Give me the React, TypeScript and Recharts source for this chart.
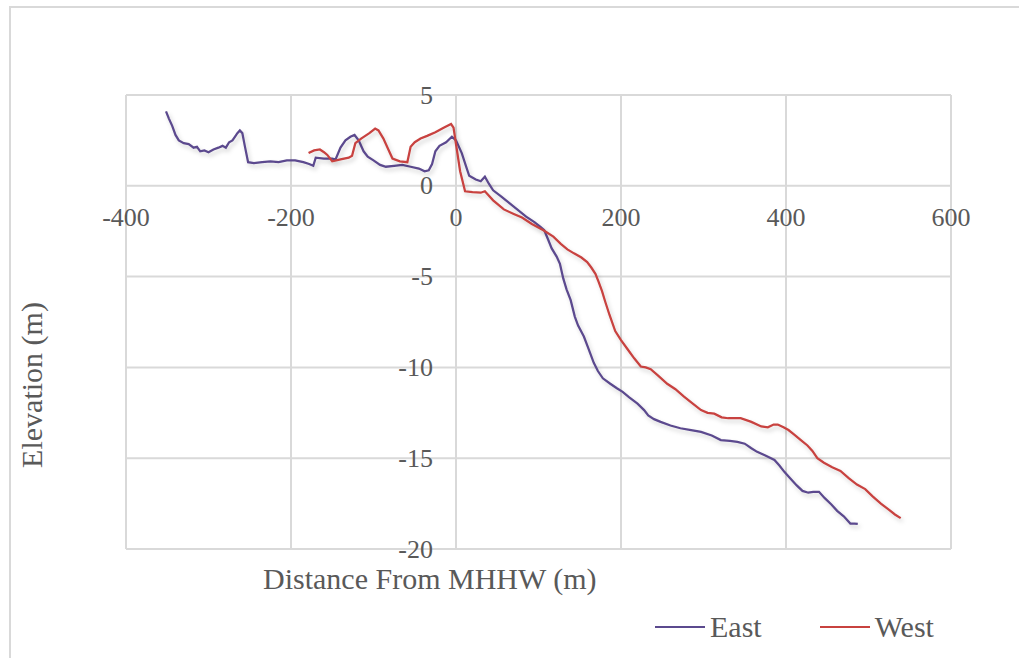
import React from 'react';
import { LineChart, Line, XAxis, YAxis, CartesianGrid, Legend } from 'recharts';

const X_TICKS = [-400, -200, 0, 200, 400, 600];
const Y_TICKS = [-20, -15, -10, -5, 0, 5];

// East transect: [distance from MHHW (m), elevation (m)]
const EAST = [
  [-351.5, 4.1], [-348, 3.7], [-344, 3.3], [-340, 2.8], [-336, 2.5], [-330, 2.35], [-324, 2.3],
  [-318, 2.1], [-314, 2.15], [-310, 1.9], [-305, 1.95], [-300, 1.85], [-294, 2.0], [-288, 2.1],
  [-283, 2.2], [-279, 2.1], [-275, 2.4], [-271, 2.5], [-268, 2.7], [-265, 2.9], [-262, 3.05],
  [-259, 2.9], [-256, 2.2], [-252, 1.3], [-245, 1.25], [-235, 1.3], [-225, 1.35], [-215, 1.3],
  [-205, 1.4], [-195, 1.4], [-185, 1.3], [-178, 1.2], [-173, 1.1], [-170, 1.55], [-160, 1.5],
  [-150, 1.5], [-146, 1.45], [-140, 2.1], [-134, 2.5], [-128, 2.7], [-123, 2.8], [-118, 2.5],
  [-112, 1.9], [-107, 1.6], [-100, 1.4], [-92, 1.15], [-85, 1.05], [-75, 1.1], [-65, 1.15],
  [-55, 1.05], [-45, 0.95], [-38, 0.8], [-33, 0.85], [-29, 1.2], [-25, 1.9], [-20, 2.2],
  [-12, 2.4], [-5, 2.7], [0, 2.5], [7, 1.8], [12, 1.1], [16, 0.55], [24, 0.35], [30, 0.25],
  [35, 0.5], [40, 0.1], [45, -0.25], [55, -0.6], [70, -1.15], [85, -1.7], [95, -2.0],
  [102, -2.25], [107, -2.45], [112, -3.0], [116, -3.45], [122, -3.9], [126, -4.3], [130, -5.1],
  [134, -5.7], [139, -6.3], [144, -7.2], [148, -7.7], [155, -8.3], [160, -8.9], [167, -9.75],
  [172, -10.2], [178, -10.6], [187, -10.9], [195, -11.15], [202, -11.35], [210, -11.65],
  [220, -12.0], [228, -12.35], [233, -12.65], [240, -12.85], [248, -13.0], [260, -13.2],
  [272, -13.35], [285, -13.45], [297, -13.55], [310, -13.75], [321, -14.0], [332, -14.05],
  [341, -14.1], [350, -14.2], [358, -14.45], [365, -14.65], [375, -14.85], [386, -15.1],
  [392, -15.4], [398, -15.75], [405, -16.1], [413, -16.5], [420, -16.8], [427, -16.9],
  [433, -16.85], [440, -16.85], [447, -17.2], [455, -17.55], [462, -17.9], [470, -18.2],
  [478, -18.6], [483, -18.6], [487, -18.62],
];

// West transect
const WEST = [
  [-178.7, 1.8], [-172, 1.95], [-165, 2.0], [-160, 1.85], [-156, 1.7], [-150, 1.35], [-140, 1.45],
  [-130, 1.55], [-126, 1.65], [-122, 2.35], [-115, 2.6], [-105, 2.9], [-98, 3.15], [-94, 3.05],
  [-88, 2.6], [-82, 2.0], [-77, 1.5], [-68, 1.35], [-59, 1.3], [-55, 2.15], [-50, 2.4],
  [-43, 2.6], [-35, 2.75], [-25, 2.95], [-15, 3.2], [-6, 3.4], [-3, 3.2], [1, 2.0], [5, 0.8],
  [11, -0.3], [20, -0.35], [30, -0.38], [35, -0.3], [45, -0.8], [58, -1.3], [70, -1.55],
  [80, -1.75], [92, -2.1], [106, -2.45], [118, -2.8], [127, -3.2], [135, -3.5], [143, -3.72],
  [152, -3.95], [159, -4.2], [164, -4.5], [169, -4.85], [173, -5.3], [177, -5.8], [181, -6.4],
  [186, -7.1], [193, -8.0], [200, -8.5], [208, -9.0], [216, -9.5], [224, -9.95], [230, -10.0],
  [236, -10.1], [245, -10.45], [256, -10.9], [266, -11.2], [276, -11.6], [287, -12.0],
  [297, -12.35], [305, -12.5], [313, -12.55], [322, -12.75], [330, -12.8], [345, -12.8],
  [358, -13.0], [370, -13.25], [378, -13.3], [385, -13.15], [390, -13.15], [397, -13.3],
  [403, -13.45], [410, -13.7], [418, -14.0], [426, -14.3], [432, -14.6], [438, -15.0],
  [446, -15.25], [456, -15.5], [466, -15.7], [476, -16.1], [486, -16.45], [496, -16.7],
  [505, -17.1], [515, -17.5], [525, -17.85], [532, -18.1], [539, -18.3],
];

const eastData = EAST.map(([x, y]) => ({ x, y }));
const westData = WEST.map(([x, y]) => ({ x, y }));

const W = 1026;
const H = 658;
const AXIS_SIZE = 30;
// plot box: x 126..951, y 95..549
const MARGIN = { top: 95, left: 126 - AXIS_SIZE, right: 75, bottom: 109 - AXIS_SIZE };
const PLOT_LEFT = 126;
const PLOT_TOP = 95;
const PLOT_W = W - PLOT_LEFT - MARGIN.right;
const PLOT_H = H - PLOT_TOP - 109;
// labels hang off the zero lines, like Excel's crossing axes
const ZERO_X = PLOT_LEFT + (0 - X_TICKS[0]) / (X_TICKS[X_TICKS.length - 1] - X_TICKS[0]) * PLOT_W;
const ZERO_Y = PLOT_TOP + (Y_TICKS[Y_TICKS.length - 1] - 0) / (Y_TICKS[Y_TICKS.length - 1] - Y_TICKS[0]) * PLOT_H;

const FONT = "Tinos, 'Noto Serif', 'Liberation Serif', 'DejaVu Serif', serif";
const TEXT = '#595959';

const XTick = (props: any) => (
  <text x={props.x} y={ZERO_Y + 32} textAnchor="middle" dominantBaseline="central"
    style={{ fontFamily: FONT, fontSize: 26, fill: TEXT }}>
    {props.payload.value}
  </text>
);

const YTick = (props: any) => (
  <text x={ZERO_X - 23} y={props.y} textAnchor="end" dominantBaseline="central"
    style={{ fontFamily: FONT, fontSize: 26, fill: TEXT }}>
    {props.payload.value}
  </text>
);

const LegendContent = (props: any) => (
  <div style={{ display: 'flex', gap: 58, fontFamily: FONT, fontSize: 30, color: TEXT }}>
    {(props.payload || []).map((p: any) => (
      <div key={p.value} style={{ display: 'flex', alignItems: 'center', gap: 5 }}>
        <span style={{ display: 'inline-block', width: 50, height: 2, background: p.color }} />
        <span>{p.value}</span>
      </div>
    ))}
  </div>
);

export default function App() {
  return (
    <div style={{ position: 'absolute', left: 0, top: 0, width: W, height: H, background: '#fff', overflow: 'hidden', fontFamily: FONT }}>
      <style>{'.recharts-line-curve { filter: url(#lineShadow); }'}</style>
      <svg width={0} height={0} style={{ position: 'absolute' }}>
        <defs>
          <filter id="lineShadow" x="-10%" y="-10%" width="120%" height="130%">
            <feDropShadow dx="2" dy="3" stdDeviation="2" floodColor="#000" floodOpacity="0.18" />
          </filter>
        </defs>
      </svg>
      <div style={{ position: 'absolute', left: 9, top: 6, width: 1008, height: 700, borderLeft: '2px solid #d9d9d9', borderTop: '2px solid #d9d9d9' }} />
      <LineChart width={W} height={H} margin={MARGIN} style={{ position: 'absolute', left: 0, top: 0 }}>
        <CartesianGrid stroke="#d9d9d9" strokeWidth={2} />
        <XAxis type="number" dataKey="x" domain={[-400, 600]} ticks={X_TICKS} height={AXIS_SIZE}
          interval={0} axisLine={false} tickLine={false} tick={(p: any) => <XTick {...p} />} allowDataOverflow />
        <YAxis type="number" dataKey="y" domain={[-20, 5]} ticks={Y_TICKS} width={AXIS_SIZE}
          interval={0} axisLine={false} tickLine={false} tick={(p: any) => <YTick {...p} />} allowDataOverflow />
        <Line data={eastData} dataKey="y" name="East" stroke="#5b4a8e" strokeWidth={2.25}
          dot={false} activeDot={false} isAnimationActive={false} />
        <Line data={westData} dataKey="y" name="West" stroke="#c8423f" strokeWidth={2.25}
          dot={false} activeDot={false} isAnimationActive={false} />
        <Legend layout="horizontal" verticalAlign="middle" align="center" content={<LegendContent />}
          wrapperStyle={{ left: 655, top: 610, width: 320, height: 40 }} />
      </LineChart>
      <div style={{ position: 'absolute', left: 263, top: 562, fontSize: 30, color: TEXT, whiteSpace: 'nowrap' }}>
        Distance From MHHW (m)
      </div>
      <div style={{ position: 'absolute', left: 32, top: 385, transform: 'translate(-50%, -50%) rotate(-90deg)', fontSize: 30, color: TEXT, whiteSpace: 'nowrap' }}>
        Elevation (m)
      </div>
    </div>
  );
}
